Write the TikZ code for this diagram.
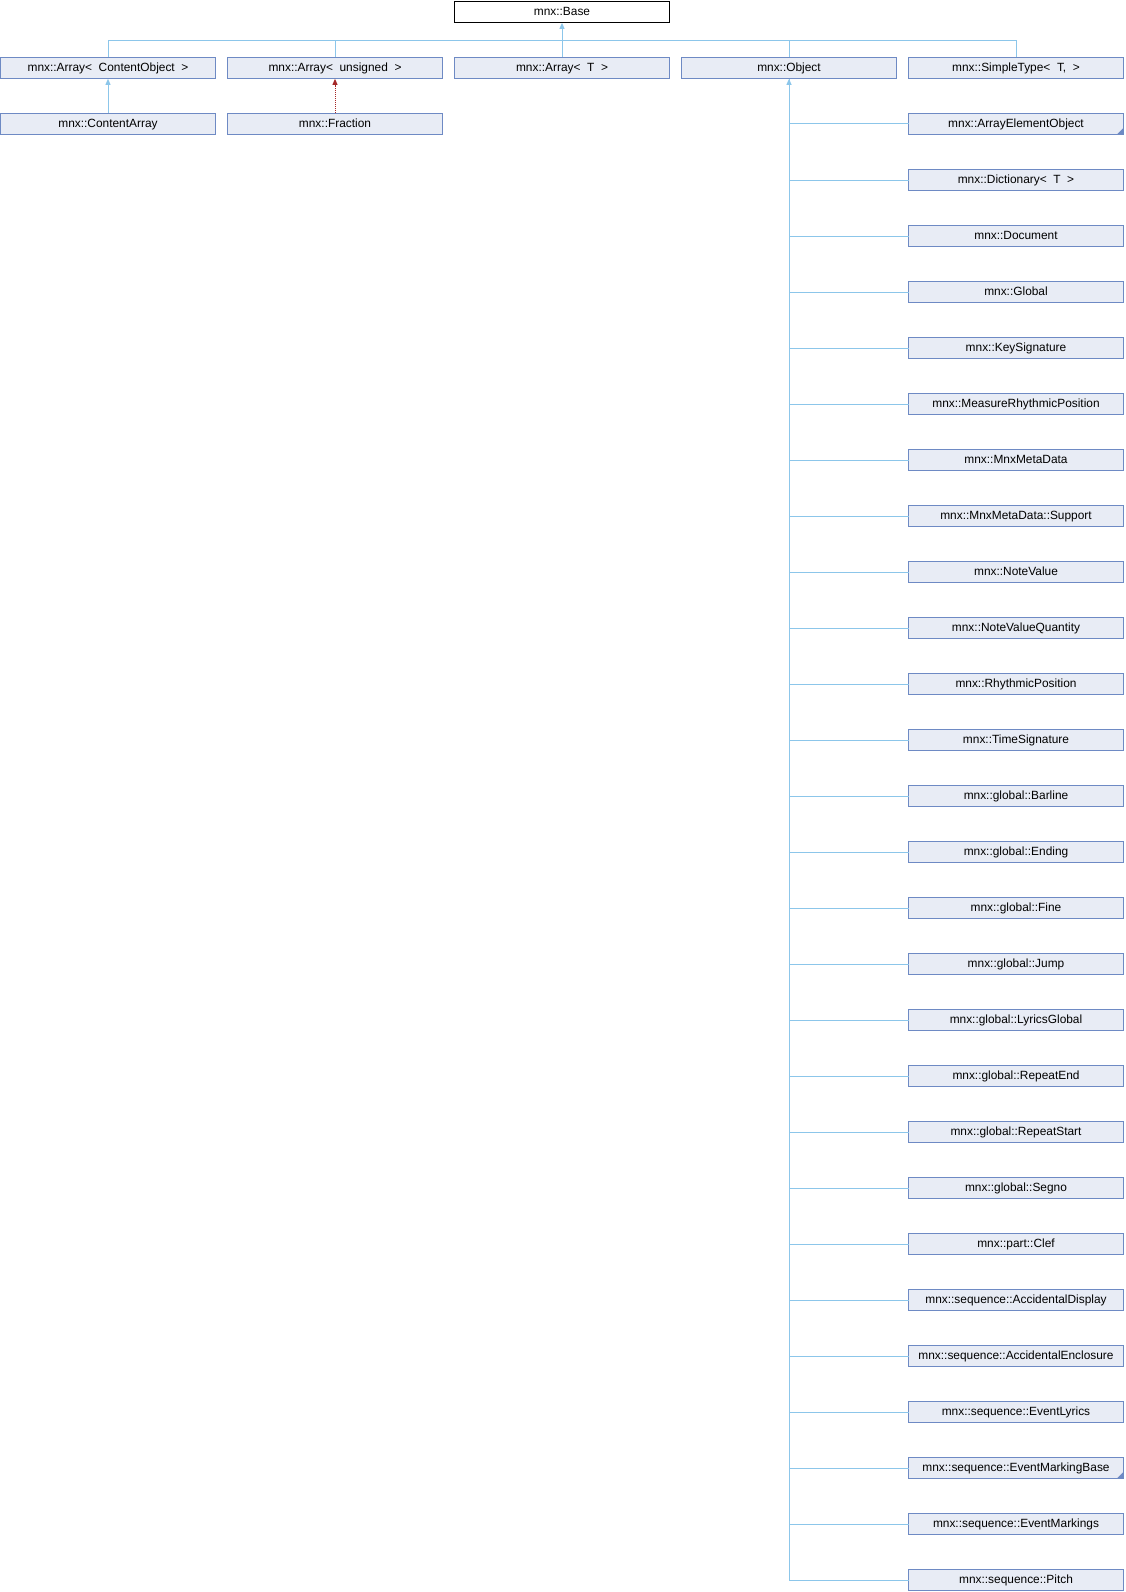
\documentclass[tikz,border=0pt]{standalone}
\usepackage{fontspec}
\setmainfont{Liberation Sans}
\usetikzlibrary{arrows.meta}
\definecolor{boxfill}{RGB}{232,236,245}
\definecolor{boxline}{RGB}{110,138,196}
\definecolor{connblue}{RGB}{140,198,234}
\definecolor{connred}{RGB}{165,40,40}
\tikzset{
  cls/.style={draw=boxline, fill=boxfill, line width=1pt, rectangle,
    minimum width=215pt, minimum height=21.7pt, inner sep=0pt, outer sep=0pt,
    text height=9pt, text depth=2pt,
    font=\fontsize{11.9pt}{13pt}\selectfont},
  basecls/.style={cls, draw=black, fill=white},
  conn/.style={draw=connblue, line width=1pt},
  tipb/.style={-{Triangle[length=6pt,width=5pt]}},
  reddot/.style={draw=connred, line width=1pt, dash pattern=on 1pt off 1pt,
    -{Triangle[length=6pt,width=5pt,fill=connred,sharp]}}
}
\begin{document}
\begin{tikzpicture}[x=1pt,y=-1pt]
\useasboundingbox (0,0) rectangle (1125,1592);
% row centers: 12 + 56 i
\node[basecls] (base) at (562,12) {mnx::Base};
\node[cls] (arrco) at (108,68) {mnx::Array<~ ContentObject~ >};
\node[cls] (arrun) at (335,68) {mnx::Array<~ unsigned~ >};
\node[cls] (arrt)  at (562,68) {mnx::Array<~ T~ >};
\node[cls] (obj)   at (789,68) {mnx::Object};
\node[cls] (simple) at (1016,68) {mnx::SimpleType<~ T,~ >};
\node[cls] (carr) at (108,124) {mnx::ContentArray};
\node[cls] (frac) at (335,124) {mnx::Fraction};
\coordinate (bus) at (562,40.6);
% right column
\foreach \name/\txt [count=\i from 2] in {
  aeo/mnx::ArrayElementObject,
  dict/{mnx::Dictionary<~ T~ >},
  doc/mnx::Document,
  glob/mnx::Global,
  keysig/mnx::KeySignature,
  mrp/mnx::MeasureRhythmicPosition,
  meta/mnx::MnxMetaData,
  supp/mnx::MnxMetaData::Support,
  nv/mnx::NoteValue,
  nvq/mnx::NoteValueQuantity,
  rp/mnx::RhythmicPosition,
  ts/mnx::TimeSignature,
  bar/mnx::global::Barline,
  end/mnx::global::Ending,
  fine/mnx::global::Fine,
  jump/mnx::global::Jump,
  lyg/mnx::global::LyricsGlobal,
  rend/mnx::global::RepeatEnd,
  rstart/mnx::global::RepeatStart,
  segno/mnx::global::Segno,
  clef/mnx::part::Clef,
  accd/mnx::sequence::AccidentalDisplay,
  acce/mnx::sequence::AccidentalEnclosure,
  evly/mnx::sequence::EventLyrics,
  emb/mnx::sequence::EventMarkingBase,
  ems/mnx::sequence::EventMarkings,
  pitch/mnx::sequence::Pitch} {
  \node[cls] (\name) at (1016,{12+56*\i}) {\txt};
  \draw[conn] (obj.south) |- (\name.west);
}
% collapsed markers
\fill[boxline] ([xshift=-0.5pt,yshift=0.5pt]aeo.south east) -- ++(-6,0) -- ++(6,-6) -- cycle;
\fill[boxline] ([xshift=-0.5pt,yshift=0.5pt]emb.south east) -- ++(-6,0) -- ++(6,-6) -- cycle;
% inheritance from Base
\draw[conn,tipb,fill=connblue] (bus) -- (base.south);
\foreach \c in {arrco,arrun,arrt,obj,simple}
  \draw[conn] (\c.north) |- (bus);
% Object children arrow
\draw[conn,tipb,fill=connblue] (obj.south |- aeo.west) -- (obj.south);
% ContentArray
\draw[conn,tipb,fill=connblue] (carr.north) -- (arrco.south);
% Fraction (template instance)
\draw[reddot] (frac.north) -- (arrun.south);
\end{tikzpicture}
\end{document}
